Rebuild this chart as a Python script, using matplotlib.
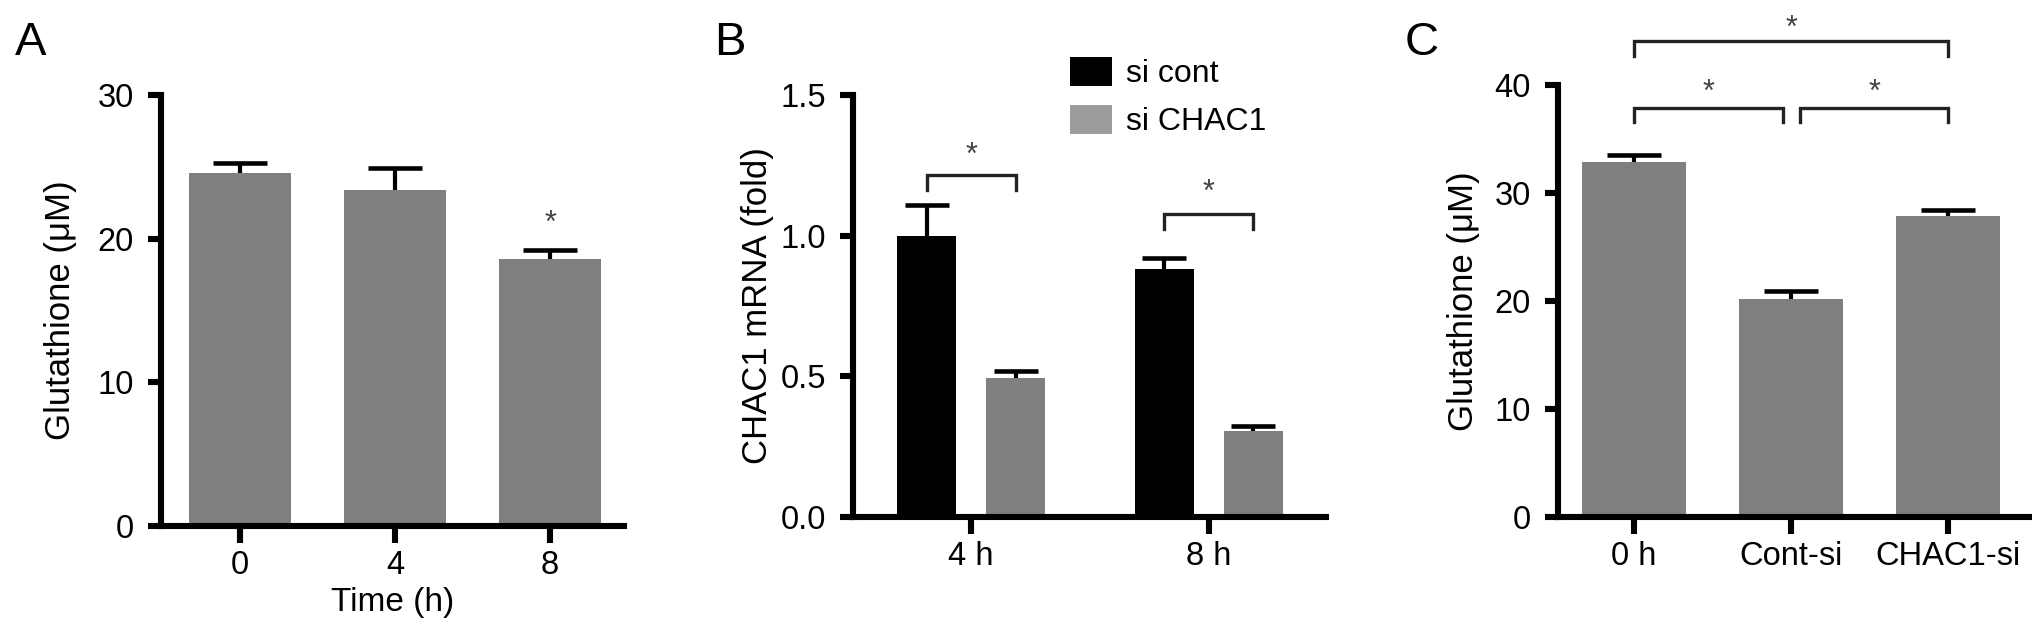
import matplotlib
matplotlib.use("Agg")
import matplotlib.pyplot as plt
from matplotlib.patches import Patch
import numpy as np

plt.rcParams['font.family'] = ['Liberation Sans', 'DejaVu Sans']

# ---------------- data ----------------
# Panel A
a_categories = ['0', '4', '8']
a_values = [24.6, 23.4, 18.6]
a_errors = [0.65, 1.5, 0.6]
a_star_y = 21.0

# Panel B
b_groups = ['4 h', '8 h']
b_sicont = [1.0, 0.88]
b_sicont_err = [0.11, 0.04]
b_sichac1 = [0.495, 0.305]
b_sichac1_err = [0.025, 0.018]
b_series = ['si cont', 'si CHAC1']
b_bracket_y = [1.214, 1.078]
b_bracket_drop = [1.163, 1.023]
b_star_y = [1.285, 1.152]

# Panel C
c_categories = ['0 h', 'Cont-si', 'CHAC1-si']
c_values = [32.9, 20.2, 27.9]
c_errors = [0.6, 0.7, 0.55]
# brackets: (x_start, x_end, y_top, y_drop, star_y)
c_brackets = [
    (0.0, 2.0, 44.1, 42.7, 45.15),
    (0.0, 0.95, 37.9, 36.6, 39.3),
    (1.06, 2.0, 37.9, 36.6, 39.3),
]

# ---------------- style ----------------
W, H = 2032, 635
fig = plt.figure(figsize=(W / 100, H / 100), dpi=100)

GRAY = '#7f7f7f'
LEG_GRAY = '#9c9c9c'
SPINE_LW = 4.4
TICK_FS = 23.5
LABEL_FS = 25
XLABEL_FS = 24
STAR_COLOR = '#444444'
BRACKET_COLOR = '#222222'


def px_axes(left, right, top, bottom):
    return fig.add_axes([left / W, 1 - bottom / H, (right - left) / W, (bottom - top) / H])


def style_axes(ax):
    for s in ['top', 'right']:
        ax.spines[s].set_visible(False)
    for s in ['left', 'bottom']:
        ax.spines[s].set_linewidth(SPINE_LW)
        ax.spines[s].set_capstyle('projecting')
    ax.tick_params(axis='y', direction='out', length=9.5, width=SPINE_LW,
                   labelsize=TICK_FS, pad=10)
    ax.tick_params(axis='x', direction='out', length=12, width=SPINE_LW,
                   labelsize=TICK_FS, pad=5)


def up_errorbar(ax, x, y, err, capsize):
    x = np.asarray(x, dtype=float)
    y = np.asarray(y, dtype=float)
    err = np.asarray(err, dtype=float)
    _, caps, _ = ax.errorbar(x, y, yerr=[np.zeros_like(err), err], fmt='none',
                             ecolor='black', elinewidth=3.0, capsize=capsize,
                             capthick=3.3, zorder=3)
    caps[0].set_visible(False)


def bracket(ax, x0, x1, ytop, ydrop, ystar):
    ax.plot([x0, x0, x1, x1], [ydrop, ytop, ytop, ydrop], color=BRACKET_COLOR,
            lw=2.4, clip_on=False, solid_joinstyle='miter', zorder=4)
    ax.text((x0 + x1) / 2, ystar, '*', ha='center', va='center', fontsize=22,
            color=STAR_COLOR, clip_on=False)


# ---------------- Panel A ----------------
axA = px_axes(161, 624, 95, 526)
xa = np.arange(len(a_categories))
axA.bar(xa, a_values, width=0.66, color=GRAY, zorder=2)
up_errorbar(axA, xa, a_values, a_errors, capsize=19.5)
axA.text(xa[2], a_star_y, '*', ha='center', va='center', fontsize=22, color=STAR_COLOR)
axA.set_xlim(-0.51, 2.477)
axA.set_ylim(0, 30)
axA.set_yticks([0, 10, 20, 30])
axA.set_xticks(xa)
axA.set_xticklabels(a_categories)
style_axes(axA)
axA.set_ylabel('Glutathione (\u03bcM)', fontsize=LABEL_FS)
axA.yaxis.set_label_coords(-0.182, 0.5)
axA.set_xlabel('Time (h)', fontsize=XLABEL_FS)
axA.xaxis.set_label_coords(0.5, -0.142)

# ---------------- Panel B ----------------
axB = px_axes(853, 1326, 95, 517)
xb = np.arange(len(b_groups))
off = 0.187
bw = 0.248
axB.bar(xb - off, b_sicont, width=bw, color='black', zorder=2)
axB.bar(xb + off, b_sichac1, width=bw, color=GRAY, zorder=2)
up_errorbar(axB, xb - off, b_sicont, b_sicont_err, capsize=15.5)
up_errorbar(axB, xb + off, b_sichac1, b_sichac1_err, capsize=15.5)
for i in range(len(b_groups)):
    bracket(axB, xb[i] - off, xb[i] + off, b_bracket_y[i], b_bracket_drop[i], b_star_y[i])
axB.set_xlim(-0.496, 1.492)
axB.set_ylim(0, 1.5)
axB.set_yticks([0, 0.5, 1.0, 1.5])
axB.set_yticklabels(['0.0', '0.5', '1.0', '1.5'])
axB.set_xticks(xb)
axB.set_xticklabels(b_groups)
style_axes(axB)
axB.set_ylabel('CHAC1 mRNA (fold)', fontsize=LABEL_FS)
axB.yaxis.set_label_coords(-0.166, 0.5)

handles = [Patch(facecolor='black', edgecolor='none', label=b_series[0]),
           Patch(facecolor=LEG_GRAY, edgecolor='none', label=b_series[1])]
fig.legend(handles=handles, loc='upper left', bbox_to_anchor=(1070 / W, 1 - 57 / H),
           bbox_transform=fig.transFigure, frameon=False, fontsize=23,
           handlelength=1.32, handleheight=1.0, handletextpad=0.42,
           labelspacing=0.5, borderpad=0, borderaxespad=0)

# ---------------- Panel C ----------------
axC = px_axes(1558, 2030, 85, 517)
xc = np.arange(len(c_categories))
axC.bar(xc, c_values, width=0.66, color=GRAY, zorder=2)
up_errorbar(axC, xc, c_values, c_errors, capsize=19.5)
for (x0, x1, yt, yd, ys) in c_brackets:
    bracket(axC, x0, x1, yt, yd, ys)
axC.set_xlim(-0.484, 2.522)
axC.set_ylim(0, 40)
axC.set_yticks([0, 10, 20, 30, 40])
axC.set_xticks(xc)
axC.set_xticklabels(c_categories)
style_axes(axC)
axC.set_ylabel('Glutathione (\u03bcM)', fontsize=LABEL_FS)
axC.yaxis.set_label_coords(-0.166, 0.5)

# ---------------- panel letters ----------------
for lbl, xp in [('A', 31), ('B', 730), ('C', 1422)]:
    fig.text(xp / W, 1 - 43 / H, lbl, ha='center', va='center', fontsize=34)

fig.savefig('out.png', dpi=100)
